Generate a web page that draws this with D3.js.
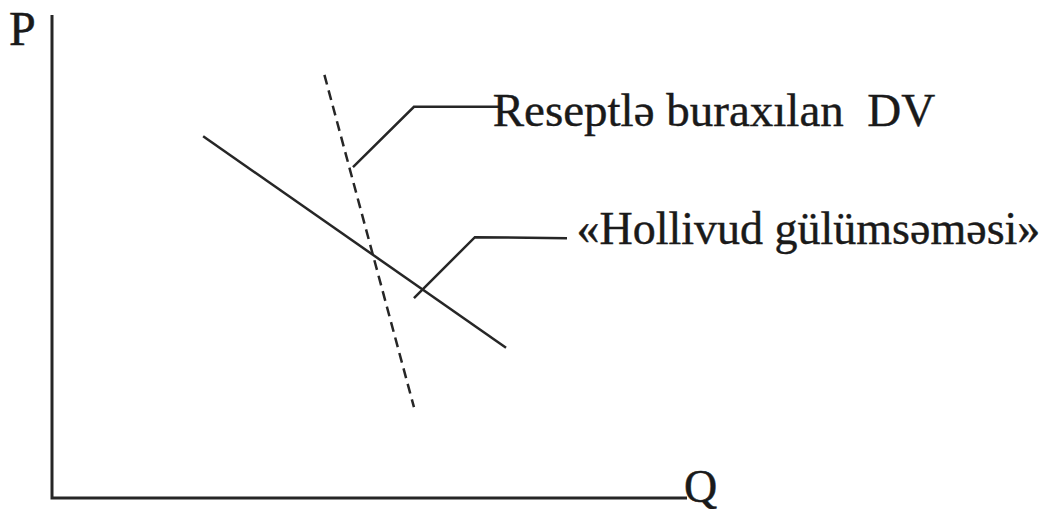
<!DOCTYPE html>
<html>
<head>
<meta charset="utf-8">
<script src="https://cdn.jsdelivr.net/npm/d3@7"></script>
<style>
  html, body { margin: 0; padding: 0; background: #fff; }
  #chart svg { display: block; }
</style>
</head>
<body>
<div id="chart"></div>
<script>
// schematic values, in axis units 0..100 (Q across, P up)
let axisLabels = ['P', 'Q'];
let demandLine = [[23.8, 74.9], [71.5, 31.1]];        // solid
let rxLine = [[42.9, 87.6], [57.0, 18.8]];             // dashed
let rxLeader = [[47.4, 68.5], [57.0, 81.0], [70.6, 81.0]];
let smileLeader = [[57.0, 41.4], [66.6, 54.0], [81.1, 53.8]];
let labelTexts = ['Reseptlə buraxılan  DV', '«Hollivud gülümsəməsi»'];
let labelPos = [[69.4, 77.0], [82.6, 52.6]];

let width = 1054;
let height = 509;
let ink = '#262626';
let serif = 'Liberation Serif, Times New Roman, serif';

let svg = d3.select('#chart').append('svg')
  .attr('width', width)
  .attr('height', height);

const x = d3.scaleLinear().domain([0, 100]).range([52, 687]);
const y = d3.scaleLinear().domain([0, 100]).range([498, 15]);

const line = d3.line()
  .x(d => x(d[0]))
  .y(d => y(d[1]));

// axes drawn as plain lines (no ticks in the original)
svg.append('path')
  .attr('d', line([[0, 100], [0, 0], [100, 0]]))
  .attr('fill', 'none')
  .attr('stroke', ink)
  .attr('stroke-width', 3);

svg.append('text')
  .attr('x', x(0) - 43)
  .attr('y', y(100) + 30)
  .attr('font-family', serif)
  .attr('font-size', 48)
  .attr('fill', '#1a1a1a')
  .attr('stroke', '#1a1a1a')
  .attr('stroke-width', 0.5)
  .text(axisLabels[0]);

svg.append('text')
  .attr('x', x(100) - 3)
  .attr('y', y(0) + 4)
  .attr('font-family', serif)
  .attr('font-size', 46)
  .attr('fill', '#1a1a1a')
  .attr('stroke', '#1a1a1a')
  .attr('stroke-width', 0.5)
  .text(axisLabels[1]);

svg.append('path')
  .attr('d', line(demandLine))
  .attr('fill', 'none')
  .attr('stroke', ink)
  .attr('stroke-width', 2.5);

svg.append('path')
  .attr('d', line(rxLine))
  .attr('fill', 'none')
  .attr('stroke', ink)
  .attr('stroke-width', 2.5)
  .attr('stroke-dasharray', '10,6');

[rxLeader, smileLeader].forEach(pts => {
  svg.append('path')
    .attr('d', line(pts))
    .attr('fill', 'none')
    .attr('stroke', ink)
    .attr('stroke-width', 2.5);
});

svg.selectAll('text.lbl')
  .data(labelTexts)
  .enter()
  .append('text')
  .attr('class', 'lbl')
  .attr('x', (d, i) => x(labelPos[i][0]))
  .attr('y', (d, i) => y(labelPos[i][1]))
  .attr('font-family', serif)
  .attr('font-size', (d, i) => i === 0 ? 47 : 46)
  .attr('fill', '#1a1a1a')
  .attr('stroke', '#1a1a1a')
  .attr('stroke-width', 0.4)
  .style('white-space', 'pre')
  .attr('xml:space', 'preserve')
  .text(d => d);
</script>
</body>
</html>
